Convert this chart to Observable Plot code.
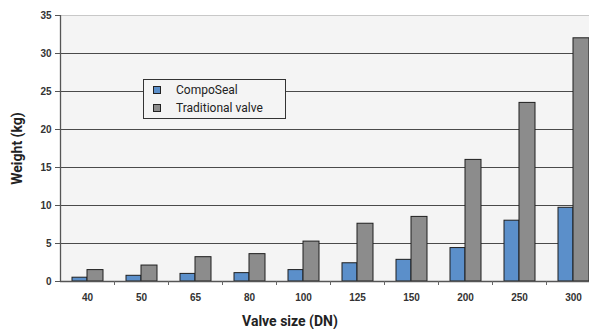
<!DOCTYPE html>
<html>
<head>
<meta charset="utf-8">
<script src="https://cdn.jsdelivr.net/npm/d3@7"></script>
<script src="https://cdn.jsdelivr.net/npm/@observablehq/plot@0.6"></script>
<style>
  html, body { margin: 0; padding: 0; background: #fff; overflow: hidden; width: 589px; height: 329px; }
  #wrap { position: relative; width: 589px; height: 329px; overflow: hidden; }
  #chart { position: absolute; left: 0; top: 0; width: 600px; }
  #chart svg { max-width: none !important; height: 329px !important; }
  #xlabel { position: absolute; left: 0; width: 580px; top: 313px; line-height: 16px; text-align: center;
    font: bold 14px Roboto, sans-serif; color: #222; }
  #legend { position: absolute; left: 143px; top: 79px; width: 143px; height: 40px;
    border: 1px solid #333; background: #f4f4f4; box-sizing: border-box;
    font: 12px Roboto, sans-serif; color: #222; }
  .item { position: absolute; left: 9px; display: flex; align-items: center; white-space: nowrap; }
  .sw { width: 6px; height: 6px; border: 1px solid #222; margin-right: 15px; }
</style>
</head>
<body>
<div id="wrap">
  <div id="chart"></div>
  <div id="legend"></div>
  <div id="xlabel"></div>
</div>
<script>
const sizes = ["40", "50", "65", "80", "100", "125", "150", "200", "250", "300"];
const compoSeal = [0.5, 0.75, 1.0, 1.1, 1.5, 2.4, 2.85, 4.4, 8.0, 9.7];
const traditional = [1.5, 2.1, 3.2, 3.6, 5.25, 7.6, 8.5, 16.0, 23.5, 32.0];
const seriesNames = ["CompoSeal", "Traditional valve"];
const seriesColors = ["#5b8fca", "#8c8c8c"];
const yTicks = [0, 5, 10, 15, 20, 25, 30, 35];
const gridTicks = [5, 10, 15, 20, 25, 30];
const xTitle = "Valve size (DN)";
const yTitle = "Weight (kg)";

const blueData = sizes.map((s, i) => ({size: s, value: compoSeal[i]}));
const grayData = sizes.map((s, i) => ({size: s, value: traditional[i]}));

const chart = Plot.plot({
  width: 600,
  height: 329,
  marginLeft: 60,
  marginRight: 0,
  marginTop: 15,
  marginBottom: 48,
  style: {background: "transparent", fontFamily: "Liberation Sans, Arial, sans-serif", maxWidth: "none"},
  x: {domain: sizes, padding: 0, axis: null},
  y: {domain: [0, 35], axis: null},
  marks: [
    Plot.frame({fill: "#f4f4f4", stroke: null}),
    Plot.ruleY([35], {stroke: "#c8c8c8", strokeWidth: 1.2}),
    Plot.ruleY(gridTicks, {stroke: "#4a4a4a", strokeWidth: 1}),
    Plot.barY(blueData, {x: "size", y: "value", fill: seriesColors[0], stroke: "#1e1e1e", strokeWidth: 1, insetLeft: 12, insetRight: 27}),
    Plot.barY(grayData, {x: "size", y: "value", fill: seriesColors[1], stroke: "#1e1e1e", strokeWidth: 1, insetLeft: 27, insetRight: 11}),
    Plot.ruleY([0], {stroke: "#555", strokeWidth: 1.3}),
    Plot.ruleX([sizes[0]], {dx: -27, stroke: "#555", strokeWidth: 1.3}),
    Plot.ruleX(sizes.slice(1), {x: d => d, y1: 0, y2: 0, insetBottom: -4, dx: -27, stroke: "#666", strokeWidth: 1}),
    Plot.axisY({ticks: yTicks, tickSize: 5, tickPadding: 4, stroke: "#555", fill: "#333",
      fontSize: 10, fontWeight: "bold", label: null}),
    Plot.axisX({tickSize: 0, tickPadding: 12, fill: "#333", fontSize: 10, fontWeight: "bold", label: null}),
    Plot.text([yTitle], {frameAnchor: "left", textAnchor: "middle", rotate: -90, dx: -43, fontSize: 14, fontWeight: "bold",
      fontFamily: "Roboto, sans-serif", fill: "#222"})
  ]
});
document.getElementById("chart").appendChild(chart);

document.getElementById("xlabel").textContent = xTitle;

const legend = document.getElementById("legend");
seriesNames.forEach((name, i) => {
  const item = document.createElement("div");
  item.className = "item";
  item.style.top = (i === 0 ? 3 : 21) + "px";
  const sw = document.createElement("span");
  sw.className = "sw";
  sw.style.background = seriesColors[i];
  const lbl = document.createElement("span");
  lbl.textContent = name;
  item.appendChild(sw);
  item.appendChild(lbl);
  legend.appendChild(item);
});
</script>
</body>
</html>
